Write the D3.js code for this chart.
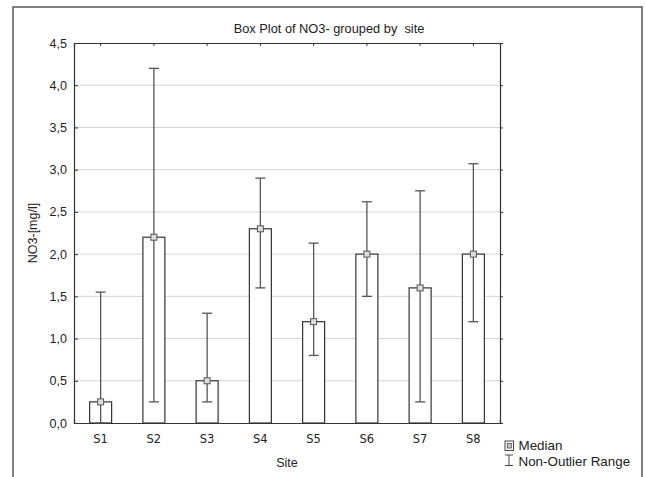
<!DOCTYPE html>
<html><head><meta charset="utf-8">
<script src="https://cdn.jsdelivr.net/npm/d3@7"></script>
<style>body{margin:0;background:#fff;}svg{display:block;font-family:"Liberation Sans",Arial,sans-serif;}</style>
</head><body>
<script>
const sites = ["S1","S2","S3","S4","S5","S6","S7","S8"];
const medians = [0.25, 2.2, 0.5, 2.3, 1.2, 2.0, 1.6, 2.0];
const whiskerLow = [0.0, 0.25, 0.25, 1.6, 0.8, 1.5, 0.25, 1.2];
const whiskerHigh = [1.55, 4.2, 1.3, 2.9, 2.13, 2.62, 2.75, 3.07];
const yTicks = [0,0.5,1.0,1.5,2.0,2.5,3.0,3.5,4.0,4.5];

const W=646,H=477;
const m={left:74,right:500,top:43,bottom:423};
const svg=d3.select("body").append("svg").attr("width",W).attr("height",H);

// outer frame
svg.append("path").attr("d",`M13,${H+2} L13,7 L642,7 L642,${H+2}`).attr("fill","none").attr("stroke","#555").attr("stroke-width",1.5);

const x=d3.scaleBand().domain(sites).range([m.left,m.right]);
const y=d3.scaleLinear().domain([0,4.5]).range([m.bottom,m.top]);

// grid
svg.append("g").selectAll("line").data(yTicks.slice(1,-1)).join("line")
 .attr("x1",m.left).attr("x2",m.right).attr("y1",d=>y(d)).attr("y2",d=>y(d))
 .attr("stroke","#d4d4d4").attr("stroke-width",1);

const fmt=d=>d3.format(".1f")(d).replace(".",",");
const axL=svg.append("g").attr("transform",`translate(${m.left},0)`).call(d3.axisLeft(y).tickValues(yTicks).tickFormat(fmt).tickSize(-4).tickPadding(7));
const axR=svg.append("g").attr("transform",`translate(${m.right},0)`).call(d3.axisRight(y).tickValues(yTicks).tickFormat("").tickSize(3));
const axB=svg.append("g").attr("transform",`translate(0,${m.bottom})`).call(d3.axisBottom(x).tickSize(-3).tickPadding(12));
const axT=svg.append("g").attr("transform",`translate(0,${m.top})`).call(d3.axisTop(x).tickSize(-3).tickFormat(""));
[axL,axR,axB,axT].forEach(a=>{
  a.select(".domain").attr("stroke","#333").attr("stroke-width",1.2);
  a.selectAll(".tick line").attr("stroke","#333");
  a.selectAll("text").attr("fill","#222").attr("font-size",12.5).attr("font-family","Liberation Sans, Arial, sans-serif");
});
axB.selectAll("text").attr("font-family","DejaVu Sans").attr("font-size",11.5);

const bw=22, cap=10;
const g=svg.append("g");
sites.forEach((s,i)=>{
  const cx=x(s)+x.bandwidth()/2;
  g.append("rect").attr("x",cx-bw/2).attr("y",y(medians[i])).attr("width",bw).attr("height",y(0)-y(medians[i]))
   .attr("fill","#fff").attr("stroke","#333").attr("stroke-width",1.2);
  g.append("line").attr("x1",cx).attr("x2",cx).attr("y1",y(whiskerLow[i])).attr("y2",y(whiskerHigh[i])).attr("stroke","#555").attr("stroke-width",1.3);
  [whiskerLow[i],whiskerHigh[i]].forEach(v=>{
    g.append("line").attr("x1",cx-cap/2).attr("x2",cx+cap/2).attr("y1",y(v)).attr("y2",y(v)).attr("stroke","#555").attr("stroke-width",1.3);
  });
  g.append("rect").attr("x",cx-3).attr("y",y(medians[i])-3).attr("width",6).attr("height",6)
   .attr("fill","#ddd").attr("stroke","#555").attr("stroke-width",1);
});

// title
svg.append("text").attr("x",329).attr("y",33).attr("text-anchor","middle").attr("font-size",12.8).attr("fill","#222")
  .style("white-space","pre").text("Box Plot of NO3- grouped by  site");
// axis titles
svg.append("text").attr("transform","translate(37,233) rotate(-90)").attr("text-anchor","middle").attr("font-size",12.5).attr("fill","#222").text("NO3-[mg/l]");
svg.append("text").attr("x",287).attr("y",467).attr("text-anchor","middle").attr("font-size",12.5).attr("fill","#222").text("Site");

// legend
const lg=svg.append("g");
lg.append("rect").attr("x",505).attr("y",441).attr("width",8.5).attr("height",9.5).attr("fill","#fff").attr("stroke","#444");
lg.append("rect").attr("x",507.3).attr("y",443.5).attr("width",4).attr("height",4.5).attr("fill","#ccc").attr("stroke","#444").attr("stroke-width",0.8);
lg.append("text").attr("x",518.5).attr("y",449.5).attr("font-size",13.4).attr("fill","#222").text("Median");
lg.append("line").attr("x1",509).attr("x2",509).attr("y1",455).attr("y2",465.5).attr("stroke","#444");
lg.append("line").attr("x1",505).attr("x2",513).attr("y1",455).attr("y2",455).attr("stroke","#444");
lg.append("line").attr("x1",505).attr("x2",513).attr("y1",465.5).attr("y2",465.5).attr("stroke","#444");
lg.append("text").attr("x",518.5).attr("y",465.5).attr("font-size",13.4).attr("fill","#222").text("Non-Outlier Range");
</script>
</body></html>
